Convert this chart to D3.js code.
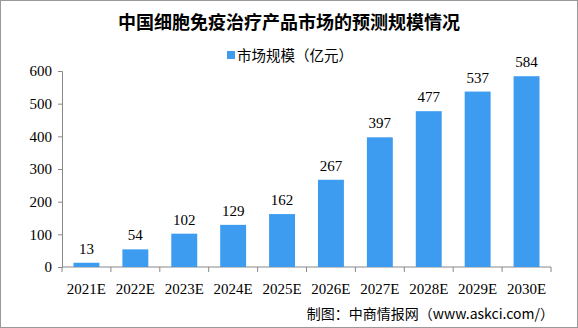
<!DOCTYPE html>
<html lang="zh">
<head>
<meta charset="UTF-8">
<script src="https://d3js.org/d3.v7.min.js"></script>
<style>
  body { margin: 0; background: #fff; }
  .axis text { font: 15px "Liberation Serif", serif; fill: #000; }
  .axis path, .axis line { stroke: #888; }
</style>
</head>
<body>
<script>
// data
const years = ["2021E", "2022E", "2023E", "2024E", "2025E", "2026E", "2027E", "2028E", "2029E", "2030E"];
const values = [13, 54, 102, 129, 162, 267, 397, 477, 537, 584];
const yTicks = [0, 100, 200, 300, 400, 500, 600];

const W = 578, H = 328;
const svg = d3.select("body").append("svg").attr("width", W).attr("height", H);

// outer frame
svg.append("rect").attr("x", 0.5).attr("y", 0.5).attr("width", W - 1).attr("height", H - 1)
  .attr("fill", "#fff").attr("stroke", "#999");

const plotL = 62, plotR = 551, plotT = 71, plotB = 267;

const x = d3.scaleBand().domain(years).range([plotL, plotR]).paddingInner(0.47).paddingOuter(0.235);
const y = d3.scaleLinear().domain([0, 600]).range([plotB, plotT]);

// title
svg.append("text").attr("x", 289).attr("y", 29).attr("text-anchor", "middle")
  .style("font", "bold 18px 'Noto Sans CJK SC', sans-serif").text("中国细胞免疫治疗产品市场的预测规模情况");

// legend
svg.append("rect").attr("x", 227).attr("y", 51).attr("width", 8).attr("height", 8).attr("fill", "#3d9cf0");
svg.append("text").attr("x", 237).attr("y", 61)
  .style("font", "14.5px 'Noto Sans CJK SC', sans-serif").text("市场规模（亿元）");

// y axis
svg.append("g").attr("class", "axis").attr("transform", `translate(${plotL},0)`)
  .call(d3.axisLeft(y).tickValues(yTicks).tickSize(4).tickPadding(6));

// x axis with ticks between categories
const xa = svg.append("g").attr("class", "axis").attr("transform", `translate(0,${plotB})`);
xa.append("line").attr("x1", plotL).attr("x2", plotR).attr("stroke", "#888");
const edges = d3.range(years.length + 1).map(i => plotL + (plotR - plotL) * i / years.length);
xa.selectAll("line.t").data(edges).join("line").attr("class", "t")
  .attr("x1", d => d).attr("x2", d => d).attr("y1", 0).attr("y2", 5).attr("stroke", "#888");
xa.selectAll("text").data(years).join("text")
  .attr("x", d => x(d) + x.bandwidth() / 2).attr("y", 27).attr("text-anchor", "middle").text(d => d);

// bars
svg.selectAll("rect.bar").data(years).join("rect").attr("class", "bar")
  .attr("x", d => x(d)).attr("width", x.bandwidth())
  .attr("y", (d, i) => y(values[i])).attr("height", (d, i) => plotB - y(values[i]))
  .attr("fill", "#3d9cf0");

// value labels
svg.selectAll("text.val").data(years).join("text").attr("class", "val")
  .attr("x", d => x(d) + x.bandwidth() / 2).attr("y", (d, i) => y(values[i]) - 9)
  .attr("text-anchor", "middle").style("font", "15px 'Liberation Serif', serif").text((d, i) => values[i]);

// source
svg.append("text").attr("x", 554).attr("y", 319).attr("text-anchor", "end")
  .style("font", "14px 'Noto Sans CJK SC', sans-serif").text("制图：中商情报网（www.askci.com/）");
</script>
</body>
</html>
